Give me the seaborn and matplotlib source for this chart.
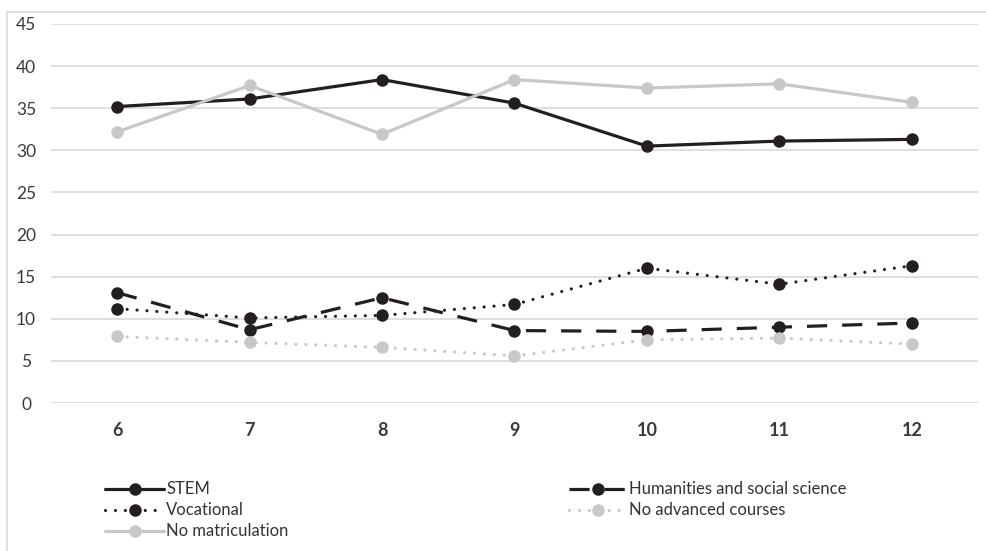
import pandas as pd
import matplotlib.pyplot as plt
import seaborn as sns
from matplotlib.lines import Line2D

# data
grades = [6, 7, 8, 9, 10, 11, 12]
stem = [35.2, 36.1, 38.4, 35.6, 30.5, 31.1, 31.3]
humanities = [13.1, 8.7, 12.5, 8.6, 8.5, 9.0, 9.5]
vocational = [11.2, 10.1, 10.4, 11.7, 16.0, 14.1, 16.3]
no_advanced = [7.9, 7.2, 6.6, 5.6, 7.5, 7.7, 7.0]
no_matric = [32.2, 37.7, 31.9, 38.4, 37.4, 37.9, 35.7]

sns.set_style("white")
plt.rcParams['font.family'] = ['Lato', 'DejaVu Sans']

BLACK = "#231f20"
GRAY = "#c8c8c8"
DOTS = (0, (0.01, 3.1))
DASH = (0, (6.3, 4.7))

# name, values, colour, linestyle, capstyle
series = [
    ("STEM", stem, BLACK, "-", "round"),
    ("Vocational", vocational, BLACK, DOTS, "round"),
    ("No matriculation", no_matric, GRAY, "-", "round"),
    ("Humanities and social science", humanities, BLACK, DASH, "butt"),
    ("No advanced courses", no_advanced, GRAY, DOTS, "round"),
]

fig = plt.figure(figsize=(9.86, 5.51), dpi=100)
ax = fig.add_axes([51 / 986, 1 - 403 / 551, 927 / 986, 379 / 551])

# draw order like the reference
draw_order = [0, 3, 1, 4, 2]
for i in draw_order:
    name, vals, col, ls, cap = series[i]
    df = pd.DataFrame({"grade": grades, "value": vals})
    sns.lineplot(data=df, x="grade", y="value", ax=ax, color=col,
                 linestyle=ls, linewidth=2.3, marker="o", markersize=9,
                 markeredgewidth=0, dash_capstyle=cap, solid_capstyle="round")

ax.set_xlim(5.5, 12.5)
ax.set_ylim(0, 45)
ax.set_yticks(range(0, 46, 5))
ax.set_xticks(grades)
ax.set_xticklabels([str(g) for g in grades], fontweight="bold", fontsize=13, color="#3a3a3a")
ax.tick_params(axis="y", labelsize=12.5, colors="#3a3a3a", pad=18, length=0)
ax.tick_params(axis="x", pad=14, length=0)
for lbl in ax.get_yticklabels():
    lbl.set_horizontalalignment("center")
ax.grid(axis="y", color="#d9d9d9", linewidth=1.2)
ax.grid(axis="x", visible=False)
ax.set_axisbelow(True)
ax.set_xlabel("")
ax.set_ylabel("")
for s in ax.spines.values():
    s.set_visible(False)

# outer frame (top and left only visible)
fig.add_artist(Line2D([7 / 986, 1], [1 - 12 / 551, 1 - 12 / 551], color="#d9d9d9", linewidth=1.2))
fig.add_artist(Line2D([7 / 986, 7 / 986], [0, 1 - 12 / 551], color="#d9d9d9", linewidth=1.2))

handles = [Line2D([], [], color=c, linestyle=ls, linewidth=2.3, marker="o", markersize=9,
                  markeredgewidth=0, dash_capstyle=cap) for _, _, c, ls, cap in series]
labels = [s[0] for s in series]
fig.legend(handles, labels, ncol=2, loc="upper left", bbox_to_anchor=(97 / 986, 1 - 473 / 551),
           frameon=False, fontsize=12, handlelength=3.5, handletextpad=0.15,
           labelspacing=0.3, columnspacing=16.8, borderpad=0, labelcolor="#333333")

fig.savefig("out.png", dpi=100)
